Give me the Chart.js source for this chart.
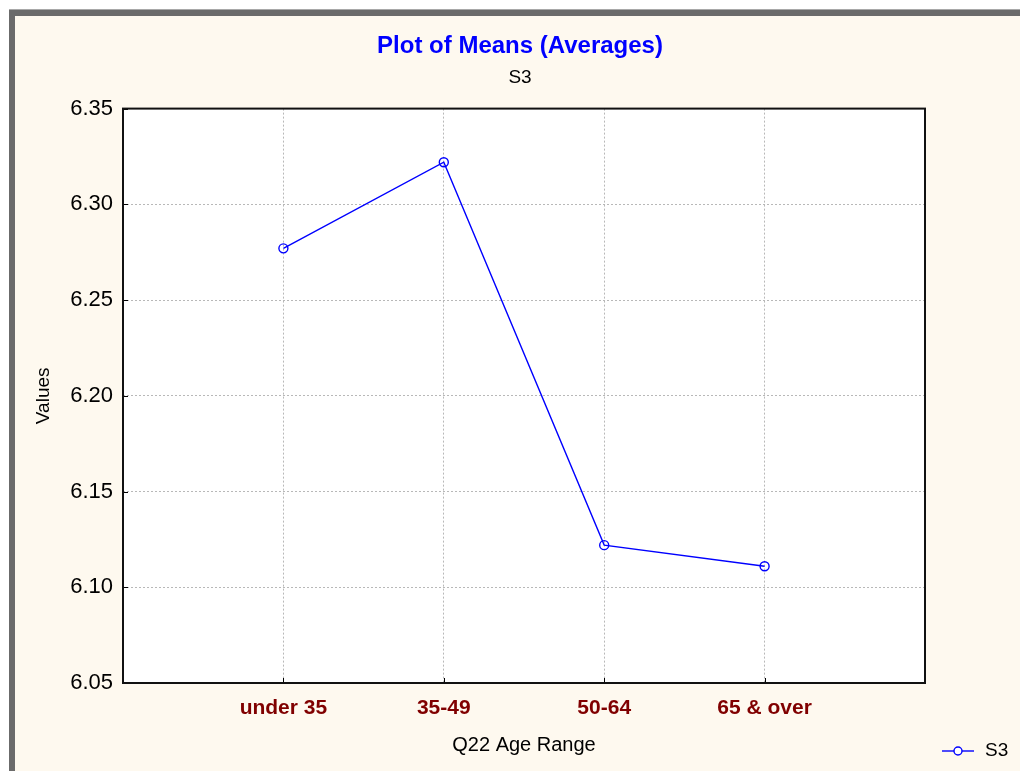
<!DOCTYPE html>
<html>
<head>
<meta charset="utf-8">
<script src="https://cdn.jsdelivr.net/npm/chart.js@4"></script>
<style>
  html, body { margin: 0; padding: 0; background: #ffffff; }
  #wrap { position: relative; width: 1020px; height: 771px; }
</style>
</head>
<body>
<div id="wrap"><canvas id="meansChart"></canvas></div>
<script>
const ageGroups = ['under 35', '35-49', '50-64', '65 & over'];
const s3Means = [6.277, 6.322, 6.122, 6.111];
const yTicks = [6.05, 6.10, 6.15, 6.20, 6.25, 6.30, 6.35];

const FONT = '"Liberation Sans", Arial, sans-serif';
const BLUE = '#0000ff';

// empty slots at both ends so the categories sit one step in from the frame
const xLabels = [''].concat(ageGroups, ['']);
const yData = [null].concat(s3Means, [null]);

const framePlugin = {
    id: 'frame',
    beforeDraw(chart) {
        const ctx = chart.ctx;
        const a = chart.chartArea;
        ctx.save();
        ctx.fillStyle = '#ffffff';
        ctx.fillRect(0, 0, chart.width, chart.height);
        ctx.fillStyle = '#fef9ef';
        ctx.fillRect(9, 10, chart.width - 9, chart.height - 10);
        ctx.fillStyle = '#a8a8a8';
        ctx.fillRect(9, 9, chart.width - 9, 1);
        ctx.fillStyle = '#6b6b6b';
        ctx.fillRect(9, 10, chart.width - 9, 6);
        ctx.fillRect(9, 10, 6, chart.height - 10);
        ctx.fillStyle = '#ffffff';
        ctx.fillRect(a.left, a.top, a.right - a.left, a.bottom - a.top);
        ctx.restore();
    },
    afterDraw(chart) {
        const ctx = chart.ctx;
        const a = chart.chartArea;
        const xs = chart.scales.x;
        const ys = chart.scales.y;
        ctx.save();
        ctx.strokeStyle = '#000000';
        ctx.lineWidth = 1;
        ctx.beginPath();
        yTicks.forEach(v => {
            const py = Math.round(ys.getPixelForValue(v)) + 0.5;
            ctx.moveTo(a.left, py);
            ctx.lineTo(a.left + 5, py);
        });
        ageGroups.forEach((g, i) => {
            const px = Math.round(xs.getPixelForValue(i + 1)) + 0.5;
            ctx.moveTo(px, a.bottom);
            ctx.lineTo(px, a.bottom - 5);
        });
        ctx.stroke();
        ctx.lineWidth = 2;
        ctx.strokeStyle = '#111111';
        ctx.strokeRect(a.left, a.top, a.right - a.left, a.bottom - a.top);

        // legend in the lower right corner
        const ds = chart.data.datasets[0];
        const ly = 751;
        ctx.strokeStyle = ds.borderColor;
        ctx.lineWidth = 1.4;
        ctx.beginPath();
        ctx.moveTo(942, ly);
        ctx.lineTo(974, ly);
        ctx.stroke();
        ctx.fillStyle = '#ffffff';
        ctx.beginPath();
        ctx.arc(958, ly, 4, 0, Math.PI * 2);
        ctx.fill();
        ctx.stroke();
        ctx.fillStyle = '#000000';
        ctx.font = '19px ' + FONT;
        ctx.textBaseline = 'middle';
        ctx.fillText(ds.label, 985, ly);
        ctx.restore();
    }
};

new Chart(document.getElementById('meansChart').getContext('2d'), {
    type: 'line',
    data: {
        labels: xLabels,
        datasets: [{
            label: 'S3',
            data: yData,
            borderColor: BLUE,
            borderWidth: 1.4,
            backgroundColor: '#ffffff',
            pointBorderColor: BLUE,
            pointBackgroundColor: 'rgba(255,255,255,0)',
            pointBorderWidth: 1.4,
            pointRadius: 4.5,
            tension: 0,
            fill: false
        }]
    },
    options: {
        responsive: true,
        maintainAspectRatio: false,
        animation: false,
        layout: { padding: { left: 20, right: 0, top: 0, bottom: 0 } },
        plugins: {
            legend: { display: false },
            tooltip: { enabled: false },
            title: {
                display: true,
                text: 'Plot of Means (Averages)',
                color: BLUE,
                font: { family: FONT, size: 24, weight: 'bold' },
                padding: { top: 32, bottom: 0 }
            },
            subtitle: {
                display: true,
                text: 'S3',
                color: '#000000',
                font: { family: FONT, size: 19 },
                padding: { top: 6, bottom: 19 }
            }
        },
        scales: {
            x: {
                type: 'category',
                offset: false,
                grid: {
                    color: ctx => (ctx.index === 0 || ctx.index === xLabels.length - 1) ? 'rgba(0,0,0,0)' : '#b8b8b8',
                    tickLength: 0,
                    drawTicks: false
                },
                border: { display: false, dash: [2, 2] },
                ticks: {
                    color: '#800000',
                    font: { family: FONT, size: 21, weight: 'bold' },
                    padding: 13,
                    autoSkip: false,
                    maxRotation: 0
                },
                title: {
                    display: true,
                    text: 'Q22 Age Range',
                    color: '#000000',
                    font: { family: FONT, size: 20 },
                    padding: { top: 0, bottom: 14 }
                },
                afterFit(scale) { scale.height = 88; }
            },
            y: {
                min: 6.05,
                max: 6.35,
                afterBuildTicks(scale) { scale.ticks = yTicks.map(v => ({ value: v })); },
                grid: {
                    color: ctx => (ctx.index === 0 || ctx.index === yTicks.length - 1) ? 'rgba(0,0,0,0)' : '#b8b8b8',
                    drawTicks: false,
                    tickLength: 0
                },
                border: { display: false, dash: [2, 2] },
                ticks: {
                    color: '#000000',
                    font: { family: FONT, size: 22 },
                    padding: 10,
                    callback: v => v.toFixed(2)
                },
                title: {
                    display: true,
                    text: 'Values',
                    color: '#000000',
                    font: { family: FONT, size: 19 },
                    padding: { top: 12, bottom: 0 }
                },
                afterFit(scale) { scale.width = 103; }
            },
            yRight: {
                position: 'right',
                display: true,
                grid: { display: false },
                border: { display: false },
                ticks: { display: false },
                afterFit(scale) { scale.width = 95; }
            }
        }
    },
    plugins: [framePlugin]
});
</script>
</body>
</html>
